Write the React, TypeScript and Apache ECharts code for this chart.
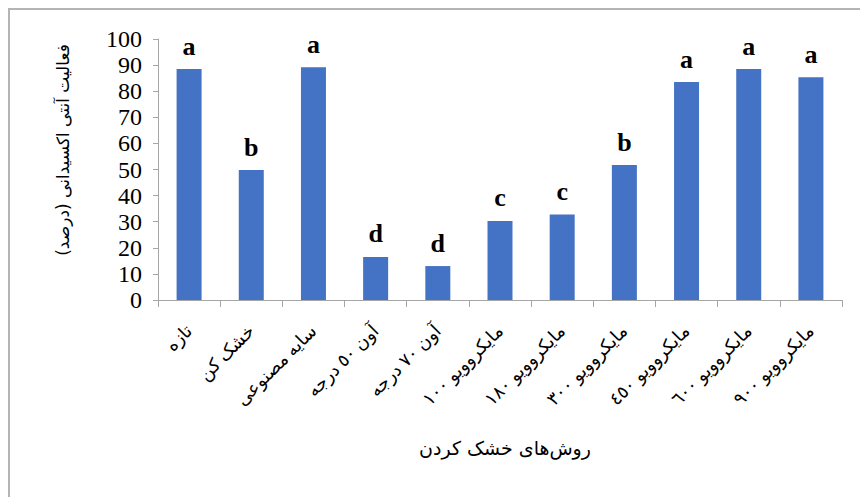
import React, { useEffect, useRef } from "react";
import * as echarts from "echarts";

// Drying methods (x categories)
const methods = [
  "تازه",
  "خشک کن",
  "سایه مصنوعی",
  "آون ٥٠ درجه",
  "آون ٧٠ درجه",
  "مایکروویو ١٠٠",
  "مایکروویو ١٨٠",
  "مایکروویو ٣٠٠",
  "مایکروویو ٤٥٠",
  "مایکروویو ٦٠٠",
  "مایکروویو ٩٠٠",
];

// Antioxidant activity (%)
const activity = [88.5, 49.8, 89.2, 16.5, 13.0, 30.3, 32.8, 51.7, 83.5, 88.5, 85.3];

// Mean-comparison letters shown above each bar
const groups = ["a", "b", "a", "d", "d", "c", "c", "b", "a", "a", "a"];

const yTicks = { min: 0, max: 100, interval: 10 };

const xTitle = "روش‌های خشک کردن";
const yTitle = "فعالیت آنتی اکسیدانی (درصد)";

const serif = "Liberation Serif";
const persian = "Liberation Serif, DejaVu Sans";

export default function App() {
  const ref = useRef<HTMLDivElement>(null);

  useEffect(() => {
    if (!ref.current) return;
    const chart = echarts.init(ref.current, null, { renderer: "svg" });
    chart.setOption({
      animation: false,
      backgroundColor: "#ffffff",
      grid: { left: 158, right: 18, top: 39, bottom: 197, containLabel: false },
      xAxis: {
        type: "category",
        data: methods,
        axisLine: { lineStyle: { color: "#a6a6a6", width: 1 } },
        axisTick: { show: true, length: 7, lineStyle: { color: "#a6a6a6" } },
        axisLabel: {
          rotate: 45,
          margin: 28,
          interval: 0,
          color: "#000",
          fontSize: 18,
          fontFamily: persian,
        },
      },
      yAxis: {
        type: "value",
        min: yTicks.min,
        max: yTicks.max,
        interval: yTicks.interval,
        splitLine: { show: false },
        axisLine: { show: true, lineStyle: { color: "#a6a6a6", width: 1 } },
        axisTick: { show: true, length: 5, lineStyle: { color: "#a6a6a6" } },
        axisLabel: {
          color: "#000",
          fontSize: 24,
          fontFamily: serif,
          margin: 16,
        },
      },
      series: [
        {
          type: "bar",
          data: activity,
          barWidth: 25,
          itemStyle: { color: "#4472C4" },
          label: {
            show: true,
            position: "top",
            distance: 10,
            formatter: (p: any) => groups[p.dataIndex],
            color: "#000",
            fontSize: 26,
            fontWeight: "bold",
            fontFamily: serif,
          },
        },
      ],
      graphic: [
        {
          type: "rect",
          shape: { x: 9, y: 9, width: 900, height: 600 },
          style: { fill: "none", stroke: "#b4b4b4", lineWidth: 2 },
          silent: true,
        },
        {
          type: "text",
          x: 505,
          y: 448,
          style: {
            text: xTitle,
            fontSize: 19,
            fontFamily: "DejaVu Sans",
            fill: "#000",
            align: "center",
            verticalAlign: "middle",
          },
        },
        {
          type: "text",
          x: 63,
          y: 150,
          rotation: Math.PI / 2,
          style: {
            text: yTitle,
            fontSize: 17,
            fontFamily: "DejaVu Sans",
            fill: "#000",
            align: "center",
            verticalAlign: "middle",
          },
        },
      ],
    });
    return () => chart.dispose();
  }, []);

  return (
    <div
      ref={ref}
      style={{ position: "fixed", left: 0, top: 0, width: 860, height: 497 }}
    />
  );
}
